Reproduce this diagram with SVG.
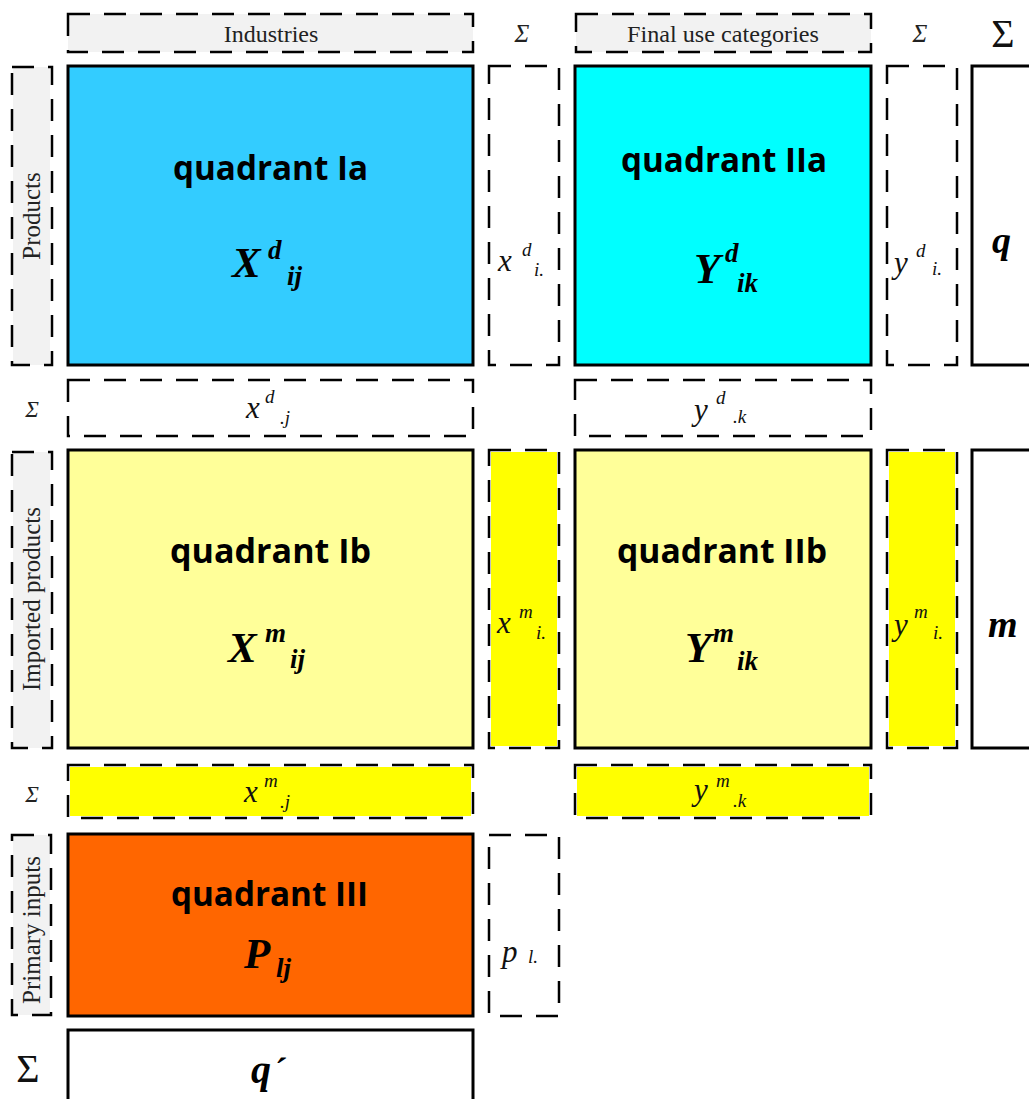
<svg xmlns="http://www.w3.org/2000/svg" width="1029" height="1099" viewBox="0 0 1029 1099">
<style>
.solid{stroke:#000;stroke-width:3}
.dash{fill:none;stroke:#000;stroke-width:2.5;stroke-dasharray:22 14}
.gray{fill:#f2f2f2}
.lab{font-family:"Liberation Serif","Times New Roman",serif;font-size:24px;fill:#222}
.sig{font-family:"Liberation Serif","Times New Roman",serif;font-style:italic;font-size:25px;fill:#222}
.bigsig{font-family:"Liberation Serif","Times New Roman",serif;font-size:40px;fill:#111}
.quad{font-family:"Open Sans","Noto Sans",sans-serif;font-weight:bold;font-size:34px;fill:#000}
.bv{font-family:"Liberation Serif","Times New Roman",serif;font-weight:bold;font-style:italic;fill:#000}
.iv{font-family:"Liberation Serif","Times New Roman",serif;font-style:italic;fill:#111}
.v{font-size:31px}
.s{font-size:19px}
</style>
<rect width="1029" height="1099" fill="#fff"/>
<g id="connectors"/>

<g id="hdr-industries">
<rect x="68" y="14" width="405" height="38" class="gray"/>
<rect x="68" y="14" width="405" height="38" class="dash"/>
<text x="271" y="42" class="lab" text-anchor="middle">Industries</text>
</g>
<g id="hdr-sigma1"><text x="522" y="42" class="sig" text-anchor="middle">Σ</text></g>
<g id="hdr-final">
<rect x="576" y="14" width="295" height="38" class="gray"/>
<rect x="576" y="14" width="295" height="38" class="dash"/>
<text x="723" y="42" class="lab" text-anchor="middle" textLength="192" lengthAdjust="spacingAndGlyphs">Final use categories</text>
</g>
<g id="hdr-sigma2"><text x="920" y="42" class="sig" text-anchor="middle">Σ</text></g>
<g id="hdr-sigma3"><text x="1003" y="47" class="bigsig" text-anchor="middle">Σ</text></g>

<g id="lbl-products">
<rect x="13" y="67" width="37" height="298" class="gray"/>
<rect x="12" y="67" width="40" height="298" class="dash"/>
<text transform="translate(40,216) rotate(-90)" class="lab" text-anchor="middle" style="font-size:25px">Products</text>
</g>
<g id="quad-Ia">
<rect x="68" y="66" width="405" height="299" fill="#33ccff" class="solid"/>
<text x="173" y="180" class="quad" textLength="195" lengthAdjust="spacingAndGlyphs">quadrant Ia</text>
<text class="bv"><tspan x="232" y="277" font-size="43">X</tspan><tspan x="268" y="259" font-size="27">d</tspan><tspan x="287" y="285" font-size="27">ij</tspan></text>
</g>
<g id="sum-xdi">
<rect x="489" y="66" width="70" height="299" class="dash"/>
<text class="iv"><tspan x="498" y="271" class="v">x</tspan><tspan x="522" y="256" class="s">d</tspan><tspan x="534" y="276" class="s">i.</tspan></text>
</g>
<g id="quad-IIa">
<rect x="575" y="66" width="296" height="299" fill="#00ffff" class="solid"/>
<text x="621" y="172" class="quad" textLength="206" lengthAdjust="spacingAndGlyphs">quadrant IIa</text>
<text class="bv"><tspan x="694" y="283" font-size="43">Y</tspan><tspan x="725" y="262" font-size="27">d</tspan><tspan x="737" y="292" font-size="27">ik</tspan></text>
</g>
<g id="sum-ydi">
<rect x="887" y="66" width="70" height="299" class="dash"/>
<text class="iv"><tspan x="894" y="273" class="v">y</tspan><tspan x="916" y="257" class="s">d</tspan><tspan x="932" y="275" class="s">i.</tspan></text>
</g>
<g id="total-q">
<rect x="972" y="66" width="70" height="299" fill="#fff" class="solid"/>
<text x="992" y="253" class="bv" font-size="38">q</text>
</g>

<g id="row-sigma1"><text x="32" y="417" class="sig" text-anchor="middle" style="font-size:23px">Σ</text></g>
<g id="sum-xdj">
<rect x="68" y="380" width="405" height="56" class="dash"/>
<text class="iv"><tspan x="246" y="418" class="v">x</tspan><tspan x="265" y="403" class="s">d</tspan><tspan x="280" y="424" class="s">.j</tspan></text>
</g>
<g id="sum-ydk">
<rect x="575" y="380" width="296" height="56" class="dash"/>
<text class="iv"><tspan x="694" y="420" class="v">y</tspan><tspan x="716" y="404" class="s">d</tspan><tspan x="733" y="423" class="s">.k</tspan></text>
</g>

<g id="lbl-imported">
<rect x="13" y="452" width="37" height="296" class="gray"/>
<rect x="12" y="452" width="40" height="296" class="dash"/>
<text transform="translate(40,599) rotate(-90)" class="lab" text-anchor="middle" style="font-size:25px">Imported products</text>
</g>
<g id="quad-Ib">
<rect x="68" y="450" width="405" height="298" fill="#ffff99" class="solid"/>
<text x="170" y="563" class="quad" textLength="201" lengthAdjust="spacingAndGlyphs">quadrant Ib</text>
<text class="bv"><tspan x="228" y="662" font-size="43">X</tspan><tspan x="265" y="642" font-size="27">m</tspan><tspan x="290" y="668" font-size="27">ij</tspan></text>
</g>
<g id="sum-xmi">
<rect x="491" y="452" width="66" height="294" fill="#ffff00"/>
<rect x="489" y="450" width="70" height="298" class="dash"/>
<text class="iv"><tspan x="497" y="633" class="v">x</tspan><tspan x="519" y="618" class="s">m</tspan><tspan x="536" y="639" class="s">i.</tspan></text>
</g>
<g id="quad-IIb">
<rect x="575" y="450" width="296" height="298" fill="#ffff99" class="solid"/>
<text x="617" y="563" class="quad" textLength="210" lengthAdjust="spacingAndGlyphs">quadrant IIb</text>
<text class="bv"><tspan x="685" y="662" font-size="43">Y</tspan><tspan x="713" y="642" font-size="27">m</tspan><tspan x="737" y="670" font-size="27">ik</tspan></text>
</g>
<g id="sum-ymi">
<rect x="889" y="452" width="66" height="294" fill="#ffff00"/>
<rect x="887" y="450" width="70" height="298" class="dash"/>
<text class="iv"><tspan x="894" y="635" class="v">y</tspan><tspan x="914" y="618" class="s">m</tspan><tspan x="933" y="639" class="s">i.</tspan></text>
</g>
<g id="total-m">
<rect x="972" y="450" width="70" height="298" fill="#fff" class="solid"/>
<text x="988" y="637" class="bv" font-size="38">m</text>
</g>

<g id="row-sigma2"><text x="32" y="802" class="sig" text-anchor="middle" style="font-size:23px">Σ</text></g>
<g id="sum-xmj">
<rect x="70" y="767" width="401" height="49" fill="#ffff00"/>
<rect x="68" y="765" width="405" height="53" class="dash"/>
<text class="iv"><tspan x="244" y="802" class="v">x</tspan><tspan x="264" y="787" class="s">m</tspan><tspan x="280" y="808" class="s">.j</tspan></text>
</g>
<g id="sum-ymk">
<rect x="577" y="767" width="292" height="49" fill="#ffff00"/>
<rect x="575" y="765" width="296" height="53" class="dash"/>
<text class="iv"><tspan x="694" y="800" class="v">y</tspan><tspan x="716" y="787" class="s">m</tspan><tspan x="733" y="807" class="s">.k</tspan></text>
</g>

<g id="lbl-primary">
<rect x="13" y="835" width="37" height="180" class="gray"/>
<rect x="12" y="835" width="39" height="180" class="dash"/>
<text transform="translate(40,930) rotate(-90)" class="lab" text-anchor="middle" style="font-size:25px">Primary inputs</text>
</g>
<g id="quad-III">
<rect x="68" y="834" width="405" height="182" fill="#ff6600" class="solid"/>
<text x="171" y="906" class="quad" textLength="197" lengthAdjust="spacingAndGlyphs">quadrant III</text>
<text class="bv"><tspan x="244" y="968" font-size="43">P</tspan><tspan x="276" y="977" font-size="27">lj</tspan></text>
</g>
<g id="sum-pl">
<rect x="489" y="835" width="70" height="181" class="dash"/>
<text class="iv"><tspan x="502" y="962" class="v">p</tspan><tspan x="528" y="963" class="s">l.</tspan></text>
</g>

<g id="row-sigma3"><text x="28" y="1082" class="bigsig" text-anchor="middle">Σ</text></g>
<g id="total-q-prime">
<rect x="68" y="1030" width="405" height="80" fill="#fff" class="solid"/>
<text x="251" y="1083" class="bv" font-size="40">q<tspan x="273" font-size="36">´</tspan></text>
</g>
</svg>
